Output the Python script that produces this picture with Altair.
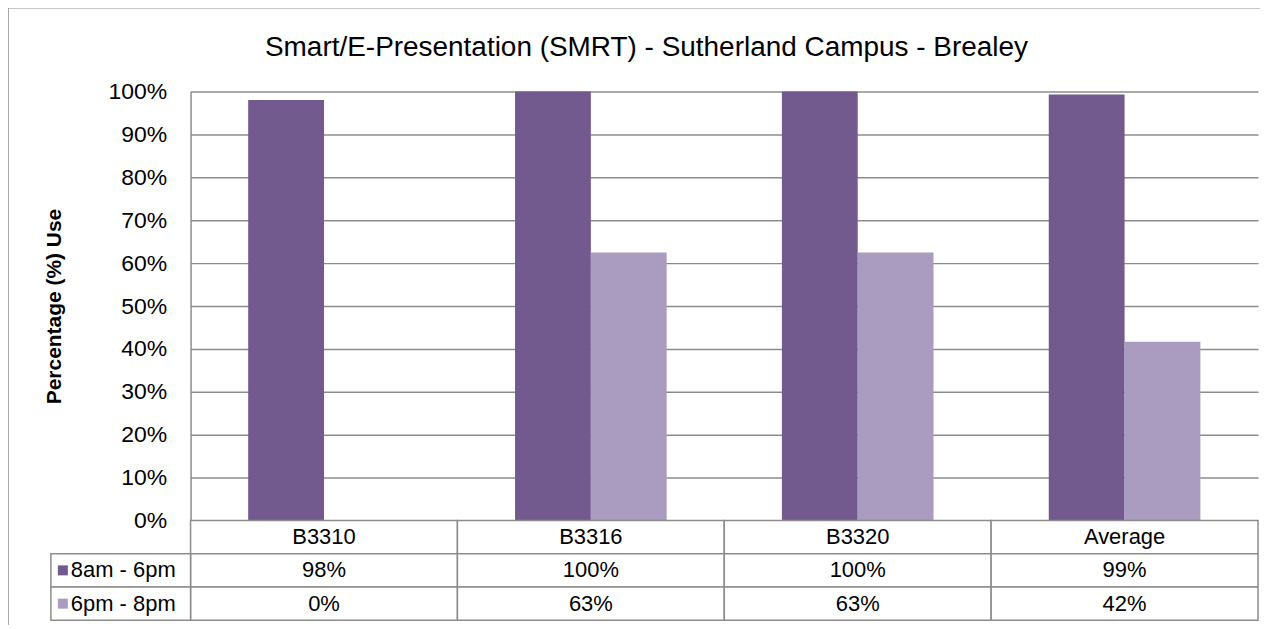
import altair as alt
import pandas as pd

categories = ["B3310", "B3316", "B3320", "Average"]
series = ["8am - 6pm", "6pm - 8pm"]
day_values = [98, 100, 100, 99.33]
evening_values = [0, 62.5, 62.5, 41.67]
colors = ["#725A8F", "#AA9BC0"]
rows = ["hdr", "8am - 6pm", "6pm - 8pm"]

FONT = "Liberation Sans"
GRID = "#8C8C8C"

bars_df = pd.DataFrame({
    "category": categories * 2,
    "series": [series[0]] * 4 + [series[1]] * 4,
    "value": day_values + evening_values,
})

cells = []
for c in categories:
    cells.append({"category": c, "row": "hdr", "label": c})
for s, vals in zip(series, [day_values, evening_values]):
    for c, v in zip(categories, vals):
        cells.append({"category": c, "row": s, "value": v, "label": None})
cells_df = pd.DataFrame(cells)

leg_df = pd.DataFrame({"row": series, "series": series})

xenc = alt.X("category:N", sort=categories,
             scale=alt.Scale(domain=categories, paddingInner=0, paddingOuter=0),
             axis=None)
row_y = alt.Y("row:N", sort=rows,
              scale=alt.Scale(domain=rows, range=[430, 530], paddingInner=0, paddingOuter=0),
              axis=None)
color = alt.Color("series:N", sort=series,
                  scale=alt.Scale(domain=series, range=colors), legend=None)

frame = alt.Chart(alt.Data(values=[{}])).mark_rect(
    fill="transparent", stroke=GRID, strokeWidth=1.5
).encode(
    x=alt.value(-183), x2=alt.value(1100), y=alt.value(-84), y2=alt.value(570)
)

bars = alt.Chart(bars_df).mark_bar().encode(
    x=xenc,
    xOffset=alt.XOffset("series:N", sort=series,
                        scale=alt.Scale(domain=series, paddingInner=0, paddingOuter=0.76)),
    y=alt.Y("value:Q",
            scale=alt.Scale(domain=[0, 100], range=[430, 0]),
            axis=alt.Axis(values=list(range(0, 101, 10)),
                          labelExpr="datum.value + '%'",
                          ticks=False, labelPadding=24,
                          labelFontSize=23, labelFont=FONT, labelColor="black",
                          domainColor=GRID, domainWidth=1.5,
                          grid=True, gridColor=GRID, gridWidth=1.5,
                          title="Percentage (%) Use", titleFont=FONT,
                          titleFontSize=21, titleFontWeight="bold", titleColor="black",
                          titleX=-136, titleY=215, titleAngle=-90,
                          titleAlign="center", titleBaseline="middle")),
    color=color,
)

cell_rects = alt.Chart(cells_df).mark_rect(
    fill="white", stroke=GRID, strokeWidth=1.5
).encode(x=xenc, y=row_y)

cell_text = alt.Chart(cells_df).transform_calculate(
    txt="datum.row == 'hdr' ? datum.label : format(datum.value, '.0f') + '%'"
).mark_text(font=FONT, fontSize=22, color="black", baseline="middle").encode(
    x=xenc, y=row_y, text="txt:N"
)

leg_rects = alt.Chart(leg_df).mark_rect(
    fill="white", stroke=GRID, strokeWidth=1.5
).encode(x=alt.value(-140), x2=alt.value(0), y=row_y)

leg_squares = alt.Chart(leg_df).mark_square(size=100, opacity=1).encode(
    x=alt.value(-128), y=row_y, color=color
)

leg_text = alt.Chart(leg_df).mark_text(
    font=FONT, fontSize=22, color="black", align="left", baseline="middle"
).encode(x=alt.value(-120), y=row_y, text="row:N")

chart = alt.layer(
    frame, bars, cell_rects, cell_text, leg_rects, leg_squares, leg_text
).resolve_scale(y="independent").properties(
    width=1070, height=530,
    autosize="none",
    padding={"left": 183, "top": 83, "right": 2, "bottom": 4},
    title=alt.Title("Smart/E-Presentation (SMRT) - Sutherland Campus - Brealey",
                    font=FONT, fontSize=28, fontWeight="normal", color="black",
                    anchor="middle", frame="group", baseline="bottom",
                    dx=-78, dy=83, offset=0),
).configure_view(stroke=None)

chart.save("out.html", embed_options={"renderer": "svg", "actions": False})
